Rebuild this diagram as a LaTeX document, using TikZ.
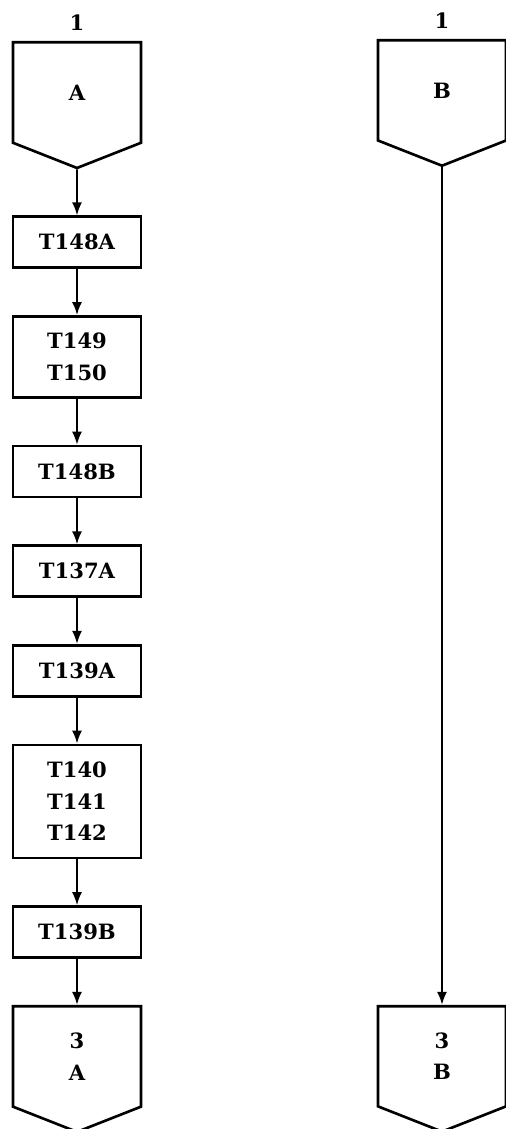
\documentclass[tikz,border=0pt]{standalone}
\usepackage{fontspec}
\setmainfont{DejaVu Serif}
\usetikzlibrary{positioning, arrows.meta, shapes.symbols}

\begin{document}
\begin{tikzpicture}[
        node distance=0.92cm,
        every node/.style={font=\fontsize{12}{18}\selectfont\bfseries},
        task/.style={rectangle, draw, line width=1.5pt, minimum width=2.56cm, minimum height=1.02cm, align=center},
        conn/.style={signal, signal to=south, signal pointer angle=137, draw, line width=1.5pt, minimum width=2.56cm, minimum height=2.12cm, align=center},
        flow/.style={-{Latex[length=2.6mm, width=2mm]}, line width=1.1pt}
    ]
    \useasboundingbox (0,0) rectangle (10.1,-22.58);
    \node (InA) [conn, anchor=north, label={[label distance=0.08cm]above:1}] at (1.54,-0.82) {A};
    \node (InB) [conn, anchor=north, label={[label distance=0.08cm]above:1}] at (8.84,-0.78) {B};
    \node (T148A) [task, below=of InA] {T148A};
    \node (T149) [task, below=of T148A, minimum height=1.62cm] {T149\\T150};
    \node (T148B) [task, below=of T149] {T148B};
    \node (T137A) [task, below=of T148B] {T137A};
    \node (T139A) [task, below=of T137A] {T139A};
    \node (T140) [task, below=of T139A, minimum height=2.26cm] {T140\\T141\\T142};
    \node (T139B) [task, below=of T140] {T139B};
    \node (OutA) [conn, below=of T139B] {3\\A};
    \node (OutB) [conn, anchor=north] at (InB |- OutA.north) {3\\B};
    \draw[flow] (InA) -- (T148A);
    \draw[flow] (T148A) -- (T149);
    \draw[flow] (T149) -- (T148B);
    \draw[flow] (T148B) -- (T137A);
    \draw[flow] (T137A) -- (T139A);
    \draw[flow] (T139A) -- (T140);
    \draw[flow] (T140) -- (T139B);
    \draw[flow] (T139B) -- (OutA);
    \draw[flow] (InB) -- (OutB);
\end{tikzpicture}
\end{document}
